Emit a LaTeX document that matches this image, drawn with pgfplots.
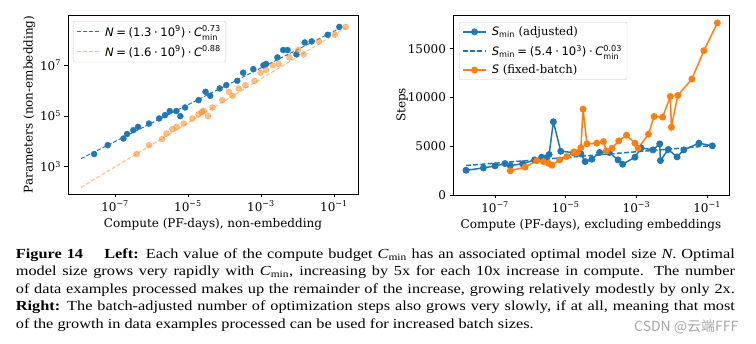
\documentclass[border=0pt]{standalone}
\usepackage{fontspec}
\usepackage{amsmath}
\usepackage{graphicx}
\usepackage{pgfplots}
\pgfplotsset{compat=1.18}
\setmainfont{DejaVu Serif}
\newfontfamily\dvs{DejaVu Sans}
\newfontfamily\capfont{Liberation Serif}
\newfontfamily\cjk{Noto Sans CJK SC}
\definecolor{tblue}{HTML}{1F77B4}
\definecolor{torange}{HTML}{FF7F0E}
\newcommand{\tk}[1]{10\textsuperscript{#1}}
\newcommand{\supsub}[2]{$^{\text{\dvs #1}}_{\text{\dvs #2}}$}
\newcommand{\sbs}[1]{$_{\text{\dvs #1}}$}
\newcommand{\sps}[1]{$^{\text{\dvs #1}}$}
\newcommand{\bo}[1]{\hspace{0.22em}#1\hspace{0.22em}}
\newcommand{\Cmin}{{\itshape C}\textsubscript{min}}
\pgfplotsset{
  base/.style={
    scale only axis, axis line style={line width=0.8pt},
    tick align=outside, tick pos=left, major tick length=3.5pt,
    every tick/.style={black, line width=0.8pt},
    tick label style={font=\fontsize{12}{14}\selectfont},
    label style={font=\fontsize{12}{14}\selectfont},
    legend style={draw=black!20, rounded corners=2pt, fill=white, fill opacity=0.8, text opacity=1, draw opacity=1,
      font=\fontsize{11.6}{14}\selectfont, cells={anchor=west}, inner xsep=3pt, inner ysep=2.5pt, row sep=4pt},
    legend image code/.code={\draw[mark repeat=2,mark phase=2,##1] plot coordinates {(0pt,0pt) (11.5pt,0pt) (23pt,0pt)};\path (26pt,0pt);},
    xminorticks=false, yminorticks=false,
    /pgf/number format/assume math mode=true,
  }
}
\begin{document}
\begin{tikzpicture}
\path[use as bounding box] (0pt,0pt) rectangle (756pt,344pt);

\begin{axis}[base, at={(68pt,150pt)}, anchor=south west, width=290pt, height=179pt,
  xmode=log, ymode=log, xmin=5.13e-9, xmax=0.457, ymin=85, ymax=9.3e8,
  xtick={1e-7,1e-5,1e-3,1e-1}, xticklabels={\tk{−7},\tk{−5},\tk{−3},\tk{−1}},
  ytick={1e3,1e5,1e7}, yticklabels={\tk{3},\tk{5},\tk{7}},
  xlabel={Compute (PF-days), non-embedding}, ylabel={Parameters (non-embedding)},
  ylabel style={yshift=-2pt},
  legend style={at={(0.017,0.966)}, anchor=north west},
]
\addplot[only marks, mark=*, mark size=3pt, tblue, forget plot] coordinates {
(2.67e-8,3.16e3) (6.31e-8,7.08e3) (1.70e-7,1.29e4) (2.14e-7,1.95e4) (3.16e-7,2.75e4)
(4.27e-7,3.72e4) (8.51e-7,5.01e4) (1.62e-6,7.94e4) (2.34e-6,1.07e5) (3.16e-6,1.55e5)
(4.79e-6,1.55e5) (6.17e-6,9.77e4) (8.32e-6,2.14e5) (1.95e-5,4.17e5) (3.02e-5,8.91e5)
(4.07e-5,6.17e5) (7.41e-5,1.20e6) (1.12e-4,1.62e6) (2.24e-4,2.40e6) (3.24e-4,5.01e6)
(6.17e-4,6.92e6) (1.17e-3,9.77e6) (1.38e-3,1.10e7) (2.82e-3,2.00e7) (4.07e-3,3.89e7)
(5.37e-3,3.89e7) (9.33e-3,2.63e7) (1.58e-2,7.76e7) (2.45e-2,8.51e7) (6.76e-2,1.55e8)
(1.41e-1,3.16e8)};
\addplot[only marks, mark=*, mark size=3pt, torange, opacity=0.5, forget plot] coordinates {
(3.89e-7,3.16e3) (8.51e-7,7.08e3) (1.95e-6,1.23e4) (2.57e-6,2.04e4) (3.72e-6,3.02e4)
(4.90e-6,3.72e4) (7.59e-6,5.01e4) (1.32e-5,7.94e4) (1.95e-5,1.15e5) (2.40e-5,1.45e5)
(2.69e-5,1.58e5) (3.55e-5,9.77e4) (4.68e-5,2.14e5) (8.71e-5,4.17e5) (1.32e-4,8.91e5)
(1.66e-4,6.17e5) (2.45e-4,1.20e6) (3.72e-4,1.62e6) (6.61e-4,2.40e6) (9.77e-4,5.01e6)
(1.38e-3,6.46e6) (2.09e-3,9.77e6) (3.09e-3,1.10e7) (6.03e-3,2.00e7) (1.05e-2,3.89e7)
(1.48e-2,2.63e7) (3.89e-2,8.51e7) (1.05e-1,1.55e8) (2.09e-1,3.16e8)};
\addplot[tblue, dash pattern=on 4pt off 2pt, line width=1pt] coordinates {(1.17e-8,2090) (0.151,2.88e8)};
\addlegendentry{{\dvs\itshape N}{\dvs\bo{=}(1.3\bo{·}10}\sps{9}{\dvs )\bo{·}}{\dvs\itshape C}\supsub{0.73}{min}}
\addplot[torange!55, dash pattern=on 4pt off 2pt, line width=1pt] coordinates {(1.17e-8,155) (0.219,3.02e8)};
\addlegendentry{{\dvs\itshape N}{\dvs\bo{=}(1.6\bo{·}10}\sps{9}{\dvs )\bo{·}}{\dvs\itshape C}\sps{0.88}}
\end{axis}

\begin{axis}[base, at={(453pt,149pt)}, anchor=south west, width=276pt, height=180pt,
  xmode=log, xmin=6.46e-9, xmax=0.417, ymin=0, ymax=18450,
  xtick={1e-7,1e-5,1e-3,1e-1}, xticklabels={\tk{−7},\tk{−5},\tk{−3},\tk{−1}},
  ytick={0,5000,10000,15000}, scaled y ticks=false, yticklabel style={/pgf/number format/1000 sep={}},
  xlabel={Compute (PF-days), excluding embeddings}, ylabel={Steps},
  ylabel style={yshift=-7pt},
  legend style={at={(0.022,0.961)}, anchor=north west},
]
\addplot[tblue, line width=1.5pt, mark=*, mark size=2.7pt] coordinates {
(1.51e-8,2530) (4.68e-8,2770) (1.00e-7,2980) (1.91e-7,3220) (2.69e-7,3010)
(6.03e-7,3200) (1.32e-6,3600) (2.09e-6,3870) (2.63e-6,3770) (3.39e-6,4150)
(4.47e-6,7500) (7.24e-6,4480) (1.66e-5,4350) (2.69e-5,4212) (3.55e-5,3425)
(5.50e-5,3664) (9.12e-5,4360) (1.70e-4,4350) (3.02e-4,3596) (4.07e-4,3151)
(9.12e-4,3870) (1.35e-3,4829) (2.95e-3,4623) (4.57e-3,5240) (4.79e-3,3527)
(7.94e-3,4658) (1.41e-2,3904) (2.19e-2,4623) (5.89e-2,5308) (1.41e-1,5034)};
\addlegendentry{{\dvs\itshape S}\sbs{min} (adjusted)}
\addplot[tblue, line width=1.5pt, dash pattern=on 5pt off 2.2pt] coordinates {(1.51e-8,3020) (1.41e-1,5060)};
\addlegendentry{{\dvs\itshape S}\sbs{min}{\dvs\bo{=}(5.4\bo{·}10}\sps{3}{\dvs )\bo{·}}{\dvs\itshape C}\supsub{0.03}{min}}
\addplot[torange, line width=1.5pt, mark=*, mark size=2.7pt] coordinates {
(2.69e-7,2480) (7.08e-7,2860) (1.51e-6,3510) (2.34e-6,3425) (3.24e-6,3253)
(4.07e-6,3050) (6.76e-6,3596) (1.07e-5,3938) (1.70e-5,4420) (2.14e-5,4349)
(2.69e-5,4863) (3.09e-5,8801) (3.98e-5,5240) (7.59e-5,5308) (1.17e-4,5479)
(1.41e-4,4521) (2.04e-4,4795) (3.16e-4,5548) (5.25e-4,6130) (9.12e-4,5308)
(1.12e-3,4795) (2.19e-3,6233) (3.16e-3,8048) (5.50e-3,7979) (9.12e-3,10103)
(9.77e-3,6952) (1.48e-2,10205) (3.72e-2,11884) (8.13e-2,14795) (1.95e-1,17637)};
\addlegendentry{{\dvs\itshape S} (fixed-batch)}
\end{axis}

\begin{scope}[every node/.style={anchor=base west, inner sep=0pt}]
\node at (15.7pt,85.7pt) {\scalebox{1}[0.85]{\capfont\fontsize{16.3}{18}\selectfont\makebox[719pt][s]{\textbf{Figure 14}\quad\ \textbf{Left:} Each value of the compute budget \Cmin{} has an associated optimal model size {\itshape N}. Optimal}}};
\node at (15.7pt,68.3pt) {\scalebox{1}[0.85]{\capfont\fontsize{16.3}{18}\selectfont\makebox[719pt][s]{model size grows very rapidly with \Cmin, increasing by 5x for each 10x increase in compute. The number}}};
\node at (15.7pt,50.7pt) {\scalebox{1}[0.85]{\capfont\fontsize{16.3}{18}\selectfont\makebox[719pt][s]{of data examples processed makes up the remainder of the increase, growing relatively modestly by only 2x.}}};
\node at (15.7pt,33pt) {\scalebox{1}[0.85]{\capfont\fontsize{16.3}{18}\selectfont\makebox[719pt][s]{\textbf{Right:} The batch-adjusted number of optimization steps also grows very slowly, if at all, meaning that most}}};
\node at (15.7pt,15pt) {\scalebox{1}[0.85]{\capfont\fontsize{16.3}{18}\selectfont of the growth in data examples processed can be used for increased batch sizes.}};
\node[text=black!35] at (634pt,12pt) {\cjk\fontsize{14}{16}\selectfont CSDN @云端FFF};
\end{scope}
\end{tikzpicture}
\end{document}
